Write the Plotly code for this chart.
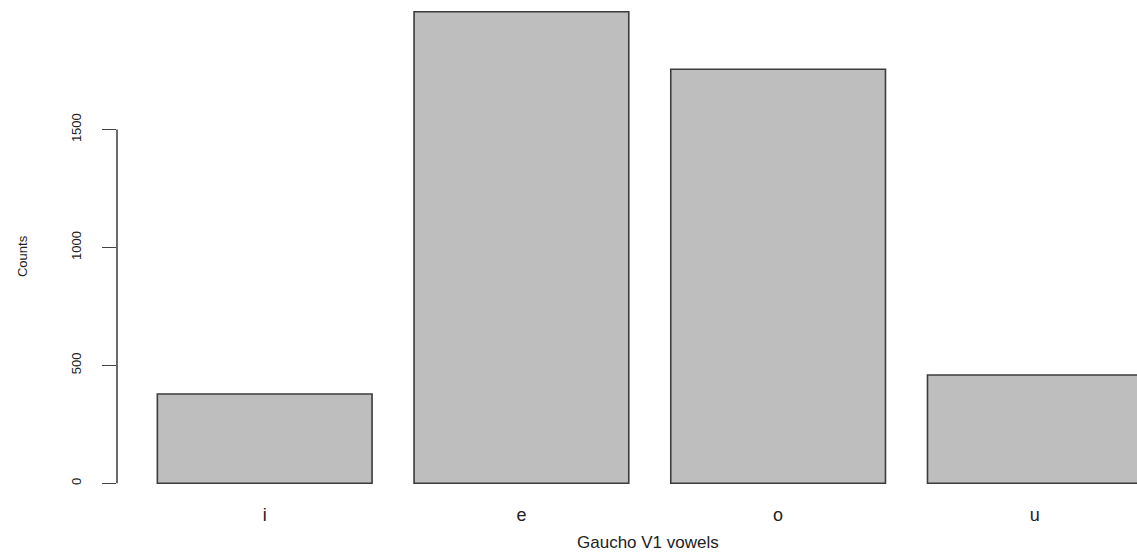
import plotly.graph_objects as go

# Vowel counts for the first-syllable vowel (V1)
vowels = ["i", "e", "o", "u"]
counts = [379, 2000, 1756, 459]
y_ticks = [0, 500, 1000, 1500]

BAR_FILL = "#bebebe"
EDGE = "#3c3c3c"
TEXT = "#222222"
FONT = "Liberation Sans, Arial, sans-serif"

fig = go.Figure(
    go.Bar(
        x=vowels,
        y=counts,
        marker=dict(color=BAR_FILL, line=dict(color=EDGE, width=1.6)),
        hoverinfo="x+y",
    )
)

fig.update_layout(
    width=1137,
    height=555,
    margin=dict(l=117, r=0, t=0, b=53),
    paper_bgcolor="white",
    plot_bgcolor="white",
    showlegend=False,
    bargap=0.1636,
    font=dict(family=FONT, color=TEXT),
    xaxis=dict(
        type="category",
        range=[-0.5754, 3.398],
        showline=False,
        showgrid=False,
        zeroline=False,
        ticks="",
        tickfont=dict(size=18, color=TEXT),
        ticklabelstandoff=0,
    ),
    yaxis=dict(
        range=[-79.3, 2049.6],
        tickvals=y_ticks,
        ticktext=[str(v) for v in y_ticks],
        tickangle=-90,
        ticks="outside",
        ticklen=14,
        tickwidth=1,
        tickcolor="#444444",
        tickfont=dict(size=13, color=TEXT),
        ticklabelstandoff=16,
        showline=False,
        showgrid=False,
        zeroline=False,
    ),
    shapes=[
        # R-style axis line spanning only the first to last tick
        dict(
            type="line",
            xref="paper",
            yref="y",
            x0=0,
            x1=0,
            y0=y_ticks[0],
            y1=y_ticks[-1],
            line=dict(color="#444444", width=1.6),
        )
    ],
    annotations=[
        dict(
            text="Counts",
            xref="paper",
            yref="paper",
            x=-0.0931,
            y=0.49,
            xanchor="center",
            yanchor="middle",
            textangle=-90,
            showarrow=False,
            font=dict(size=13, color=TEXT, family=FONT),
        ),
        dict(
            text="Gaucho V1 vowels",
            xref="paper",
            yref="paper",
            x=0.5206,
            y=-0.0797,
            xanchor="center",
            yanchor="middle",
            showarrow=False,
            font=dict(size=17, color=TEXT, family=FONT),
        ),
    ],
)

fig.write_html("out.html")
